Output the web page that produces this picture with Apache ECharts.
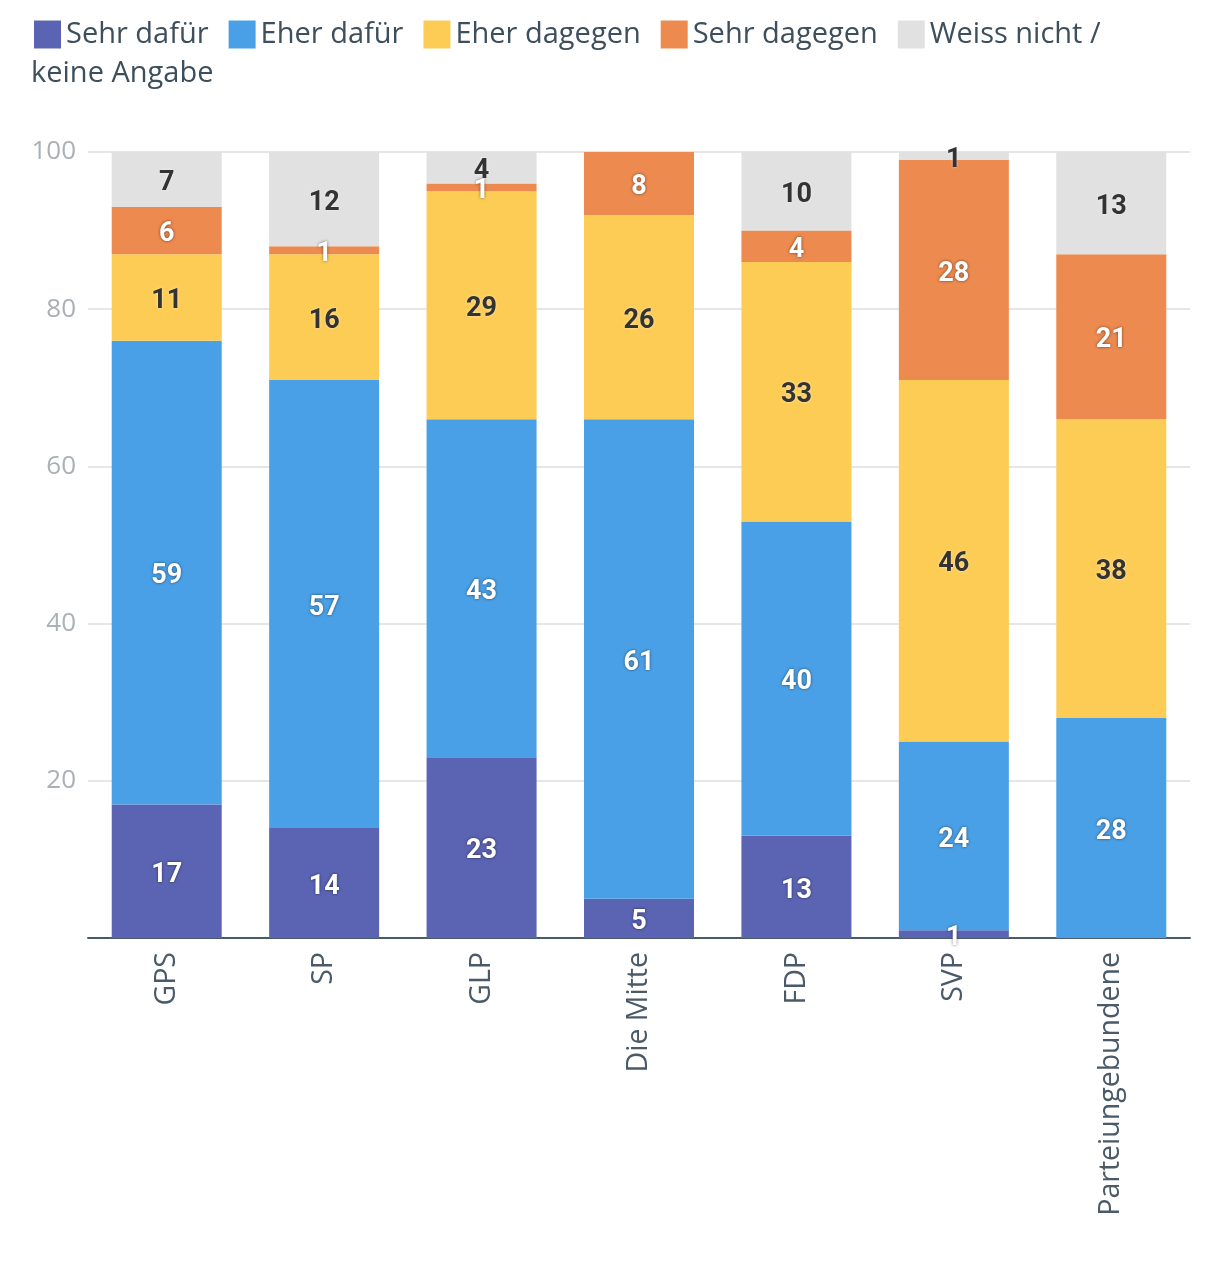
<!DOCTYPE html>
<html>
<head>
<meta charset="utf-8">
<script src="https://cdn.jsdelivr.net/npm/echarts@6/dist/echarts.min.js"></script>
<style>html,body{margin:0;padding:0;background:#fff;}#c{width:1220px;height:1278px;}</style>
</head>
<body>
<div id="c"></div>
<script>
const categories = ['GPS', 'SP', 'GLP', 'Die Mitte', 'FDP', 'SVP', 'Parteiungebundene'];
const sehrDafuer = [17, 14, 23, 5, 13, 1, 0];
const eherDafuer = [59, 57, 43, 61, 40, 24, 28];
const eherDagegen = [11, 16, 29, 26, 33, 46, 38];
const sehrDagegen = [6, 1, 1, 8, 4, 28, 21];
const weissNicht = [7, 12, 4, 0, 10, 1, 13];
const yTicks = [0, 20, 40, 60, 80, 100];

const FONT = 'Roboto, "Open Sans", sans-serif';
const FONT2 = '"Open Sans", Roboto, sans-serif';
const chart = echarts.init(document.getElementById('c'));

function mk(name, data, color, dark) {
  return {
    name: name,
    type: 'bar',
    stack: 'total',
    data: data,
    barWidth: 110,
    itemStyle: { color: color },
    label: {
      show: true,
      position: 'inside',
      offset: [0, 4],
      fontFamily: FONT,
      fontWeight: 'bold',
      fontSize: 27,
      color: dark ? '#333333' : '#ffffff',
      textShadowColor: dark ? 'rgba(255,255,255,0.6)' : 'rgba(0,0,0,0.55)',
      textShadowBlur: 3,
      formatter: p => p.value === 0 ? '' : String(p.value)
    },
    emphasis: { disabled: true }
  };
}

chart.setOption({
  animation: false,
  textStyle: { fontFamily: FONT2 },
  legend: {
    left: 29,
    top: 15,
    itemWidth: 27,
    itemHeight: 28,
    itemGap: 20,
    icon: 'rect',
    textStyle: { fontSize: 29, color: '#3d4f5c', fontFamily: FONT2 },
    data: ['Sehr dafür', 'Eher dafür', 'Eher dagegen', 'Sehr dagegen', 'Weiss nicht / keine Angabe'],
    formatter: n => n === 'Weiss nicht / keine Angabe' ? 'Weiss nicht /' : n
  },
  graphic: [{
    type: 'text',
    left: 31,
    top: 59,
    style: { text: 'keine Angabe', fontSize: 29, fill: '#3d4f5c', fontFamily: FONT2 }
  }],
  grid: { left: 88, right: 30, top: 152, bottom: 340, containLabel: false },
  xAxis: {
    type: 'category',
    data: categories,
    axisLine: { lineStyle: { color: '#4a5a68', width: 2 } },
    axisTick: { show: false },
    axisLabel: { rotate: 90, fontSize: 28.5, color: '#4a5a68', margin: 14, fontFamily: FONT2 }
  },
  yAxis: {
    type: 'value',
    min: yTicks[0],
    max: yTicks[yTicks.length - 1],
    interval: 20,
    axisLine: { show: false },
    axisTick: { show: false },
    splitLine: { lineStyle: { color: '#e6e6e6', width: 2 } },
    axisLabel: {
      fontSize: 26, color: '#aab0b5', margin: 12, fontFamily: FONT2,
      formatter: v => v === 0 ? '' : String(v)
    }
  },
  series: [
    mk('Sehr dafür', sehrDafuer, '#5a64b3', false),
    mk('Eher dafür', eherDafuer, '#4aa0e6', false),
    mk('Eher dagegen', eherDagegen, '#fdcc54', true),
    mk('Sehr dagegen', sehrDagegen, '#ec8a4f', false),
    mk('Weiss nicht / keine Angabe', weissNicht, '#e1e1e1', true)
  ]
});
</script>
</body>
</html>
